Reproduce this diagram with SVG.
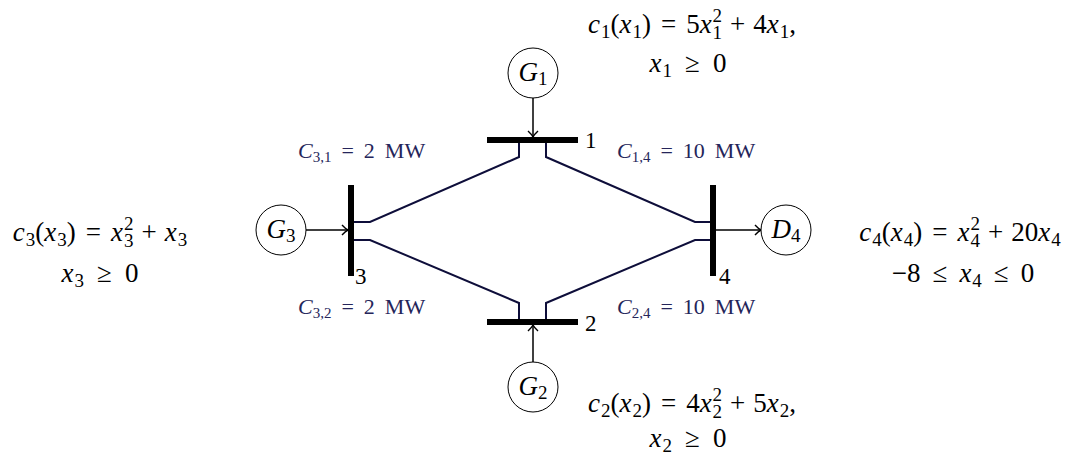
<svg xmlns="http://www.w3.org/2000/svg" width="1071" height="456" viewBox="0 0 1071 456">
<style>
.bus{stroke:#000;stroke-width:6;fill:none}
.line{stroke:#0e0e3a;stroke-width:2;fill:none;stroke-linejoin:miter}
.arr{stroke:#000;stroke-width:1.5;fill:none}
.node{fill:#fff;stroke:#000;stroke-width:1}
.m{font-family:"Liberation Serif","DejaVu Serif",serif;font-size:27px;fill:#000}
.lbl{font-family:"Liberation Serif","DejaVu Serif",serif;font-size:22px;fill:#25255a}
.bn{font-family:"Liberation Serif","DejaVu Serif",serif;font-size:23px;fill:#000}
.i{font-style:italic}
.s{font-size:19px}
.ls{font-size:15px}
</style>
<defs>
<marker id="ah" markerWidth="12" markerHeight="12" refX="0" refY="0" viewBox="-8 -6 9 12" orient="auto" markerUnits="userSpaceOnUse">
<path d="M-6,-5 Q-2.5,-1.2 0,0 Q-2.5,1.2 -6,5" stroke="#000" stroke-width="1.4" fill="none"/>
</marker>
</defs>
<g id="connectors">
<path class="line" d="M354,222 H370 L519,157 V143"/>
<path class="line" d="M546,143 V157 L695,222 H710"/>
<path class="line" d="M354,240 H370 L519,303 V319"/>
<path class="line" d="M546,319 V303 L695,240 H710"/>
<line class="arr" x1="533" y1="98" x2="533" y2="137" marker-end="url(#ah)"/>
<line class="arr" x1="533" y1="362" x2="533" y2="325" marker-end="url(#ah)"/>
<line class="arr" x1="306" y1="230" x2="348" y2="230" marker-end="url(#ah)"/>
<line class="arr" x1="716" y1="230" x2="761" y2="230" marker-end="url(#ah)"/>
</g>
<g id="bus1"><line class="bus" x1="487" y1="140" x2="578" y2="140"/><text class="bn" x="585" y="148">1</text></g>
<g id="bus2"><line class="bus" x1="487" y1="322" x2="578" y2="322"/><text class="bn" x="585" y="331">2</text></g>
<g id="bus3"><line class="bus" x1="351" y1="185" x2="351" y2="276"/><text class="bn" x="355" y="284">3</text></g>
<g id="bus4"><line class="bus" x1="713" y1="185" x2="713" y2="276"/><text class="bn" x="719" y="284">4</text></g>
<g id="G1"><circle class="node" cx="533" cy="73" r="25"/><text class="m" x="533" y="81" text-anchor="middle"><tspan class="i">G</tspan><tspan class="s" dy="4">1</tspan></text></g>
<g id="G2"><circle class="node" cx="533" cy="387" r="25"/><text class="m" x="533" y="395" text-anchor="middle"><tspan class="i">G</tspan><tspan class="s" dy="4">2</tspan></text></g>
<g id="G3"><circle class="node" cx="281" cy="230" r="25"/><text class="m" x="281" y="238" text-anchor="middle"><tspan class="i">G</tspan><tspan class="s" dy="4">3</tspan></text></g>
<g id="D4"><circle class="node" cx="786" cy="230" r="25"/><text class="m" x="786" y="238" text-anchor="middle"><tspan class="i">D</tspan><tspan class="s" dy="4">4</tspan></text></g>
<g id="cap-labels">
<text class="lbl" x="298" y="158"><tspan class="i">C</tspan><tspan class="ls" dy="4">3,1</tspan><tspan dx="10" dy="-4">=</tspan><tspan dx="10">2</tspan><tspan dx="10">MW</tspan></text>
<text class="lbl" x="617" y="158"><tspan class="i">C</tspan><tspan class="ls" dy="4">1,4</tspan><tspan dx="10" dy="-4">=</tspan><tspan dx="10">10</tspan><tspan dx="10">MW</tspan></text>
<text class="lbl" x="298" y="314"><tspan class="i">C</tspan><tspan class="ls" dy="4">3,2</tspan><tspan dx="10" dy="-4">=</tspan><tspan dx="10">2</tspan><tspan dx="10">MW</tspan></text>
<text class="lbl" x="617" y="314"><tspan class="i">C</tspan><tspan class="ls" dy="4">2,4</tspan><tspan dx="10" dy="-4">=</tspan><tspan dx="10">10</tspan><tspan dx="10">MW</tspan></text>
</g>
<g id="costs">
<text class="m" x="692" y="33" text-anchor="middle"><tspan class="i">c</tspan><tspan class="s" dx="1" dy="5">1</tspan><tspan dy="-5">(</tspan><tspan class="i">x</tspan><tspan class="s" dx="1" dy="5">1</tspan><tspan dy="-5">)</tspan><tspan dx="10">=</tspan><tspan dx="10">5</tspan><tspan class="i">x</tspan><tspan class="s" dx="1" dy="-11">2</tspan><tspan class="s" dx="-9.5" dy="17">1</tspan><tspan dx="8" dy="-6">+</tspan><tspan dx="8">4</tspan><tspan class="i">x</tspan><tspan class="s" dx="1" dy="5">1</tspan><tspan dy="-5">,</tspan></text>
<text class="m" x="688" y="72" text-anchor="middle"><tspan class="i">x</tspan><tspan class="s" dx="1" dy="5">1</tspan><tspan dx="13" dy="-5">≥</tspan><tspan dx="13">0</tspan></text>
<text class="m" x="692" y="412" text-anchor="middle"><tspan class="i">c</tspan><tspan class="s" dx="1" dy="5">2</tspan><tspan dy="-5">(</tspan><tspan class="i">x</tspan><tspan class="s" dx="1" dy="5">2</tspan><tspan dy="-5">)</tspan><tspan dx="10">=</tspan><tspan dx="10">4</tspan><tspan class="i">x</tspan><tspan class="s" dx="1" dy="-11">2</tspan><tspan class="s" dx="-9.5" dy="17">2</tspan><tspan dx="8" dy="-6">+</tspan><tspan dx="8">5</tspan><tspan class="i">x</tspan><tspan class="s" dx="1" dy="5">2</tspan><tspan dy="-5">,</tspan></text>
<text class="m" x="688" y="447" text-anchor="middle"><tspan class="i">x</tspan><tspan class="s" dx="1" dy="5">2</tspan><tspan dx="13" dy="-5">≥</tspan><tspan dx="13">0</tspan></text>
<text class="m" x="100" y="241" text-anchor="middle"><tspan class="i">c</tspan><tspan class="s" dx="1" dy="5">3</tspan><tspan dy="-5">(</tspan><tspan class="i">x</tspan><tspan class="s" dx="1" dy="5">3</tspan><tspan dy="-5">)</tspan><tspan dx="10">=</tspan><tspan class="i" dx="10">x</tspan><tspan class="s" dx="1" dy="-11">2</tspan><tspan class="s" dx="-9.5" dy="17">3</tspan><tspan dx="8" dy="-6">+</tspan><tspan class="i" dx="8">x</tspan><tspan class="s" dx="1" dy="5">3</tspan></text>
<text class="m" x="100" y="282" text-anchor="middle"><tspan class="i">x</tspan><tspan class="s" dx="1" dy="5">3</tspan><tspan dx="13" dy="-5">≥</tspan><tspan dx="13">0</tspan></text>
<text class="m" x="960" y="241" text-anchor="middle"><tspan class="i">c</tspan><tspan class="s" dx="1" dy="5">4</tspan><tspan dy="-5">(</tspan><tspan class="i">x</tspan><tspan class="s" dx="1" dy="5">4</tspan><tspan dy="-5">)</tspan><tspan dx="10">=</tspan><tspan class="i" dx="10">x</tspan><tspan class="s" dx="1" dy="-11">2</tspan><tspan class="s" dx="-9.5" dy="17">4</tspan><tspan dx="8" dy="-6">+</tspan><tspan dx="8">20</tspan><tspan class="i">x</tspan><tspan class="s" dx="1" dy="5">4</tspan></text>
<text class="m" x="963" y="282" text-anchor="middle"><tspan>−8</tspan><tspan dx="12">≤</tspan><tspan class="i" dx="12">x</tspan><tspan class="s" dx="1" dy="5">4</tspan><tspan dx="12" dy="-5">≤</tspan><tspan dx="12">0</tspan></text>
</g>
</svg>
